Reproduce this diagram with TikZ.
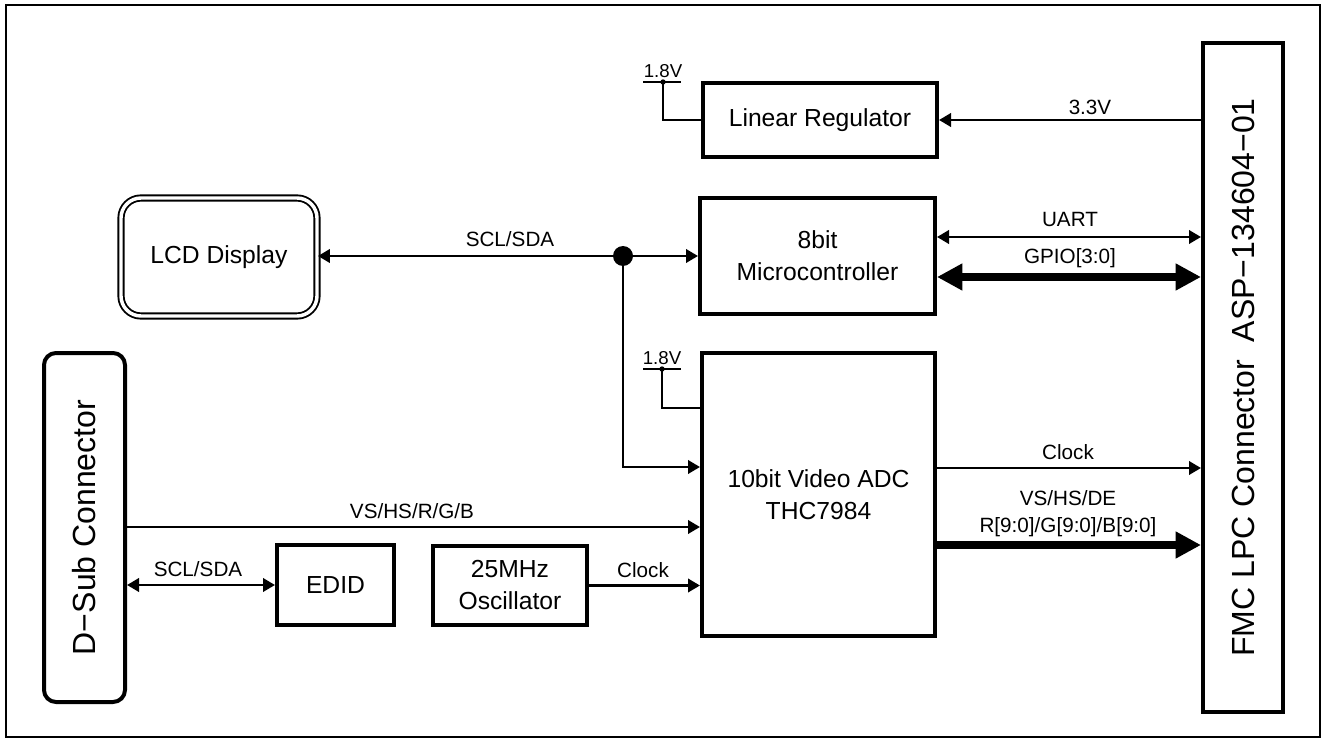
\documentclass[tikz,border=0pt]{standalone}
\usepackage{fontspec}
\setmainfont{Liberation Sans}
\usetikzlibrary{arrows.meta}
\begin{document}
\begin{tikzpicture}[x=0.75pt,y=-0.75pt,
  box/.style={draw, line width=3pt, inner sep=0pt, align=center, font=\fontsize{18.5}{24}\selectfont},
  conn/.style={line width=2pt},
  bus/.style={line width=6pt},
  lbl/.style={font=\fontsize{15.5}{18}\selectfont, inner sep=0pt},
  vlbl/.style={font=\fontsize{24}{28}\selectfont, rotate=90, inner sep=0pt},
  vlt/.style={font=\fontsize{14}{16}\selectfont, inner sep=0pt},
  tipE/.style={-{Triangle[length=9pt,width=10pt]}},
  tipB/.style={{Triangle[length=9pt,width=10pt]}-{Triangle[length=9pt,width=10pt]}},
  btipE/.style={-{Triangle[length=19pt,width=19pt]}},
  btipB/.style={{Triangle[length=19pt,width=19pt]}-{Triangle[length=19pt,width=19pt]}},
  bar/.style={line width=2pt},
  dotS/.style={circle, fill, inner sep=0pt, minimum size=4pt}
]
\useasboundingbox (0,0) rectangle (1322,738);
% outer frame
\draw[line width=1.5pt] (6,5) rectangle (1320,737);

% boxes
\node[box, minimum width=175.5pt, minimum height=55.5pt] (lr) at (820,120) {Linear Regulator};
\node[box, minimum width=176.25pt, minimum height=87pt] (uc) at (817.5,256) {8bit\\Microcontroller};
\node[box, minimum width=174.75pt, minimum height=212.25pt] (adc) at (818.5,494.5) {10bit Video ADC\\THC7984};
\node[box, minimum width=60pt, minimum height=501.75pt] (fmc) at (1243,377.5) {};
\node[vlbl] (fmct) at (fmc.center) {FMC LPC Connector\ \ ASP−134604−01};
\node[box, rounded corners=9pt, minimum width=60.75pt, minimum height=261.75pt] (dsub) at (84.5,527.5) {};
\node[vlbl] (dsubt) at (dsub.center) {D−Sub Connector};
\node[box, minimum width=87.75pt, minimum height=60pt] (edid) at (335.5,585) {EDID};
\node[box, minimum width=115.5pt, minimum height=59.25pt] (osc) at (510,585.5) {25MHz\\Oscillator};
\node[draw, line width=1.4pt, double=white, double distance=2.6pt, rounded corners=15pt,
      inner sep=0pt, font=\fontsize{18.5}{24}\selectfont,
      minimum width=147pt, minimum height=88.5pt] (lcd) at (219,257) {LCD Display};

% 1.8V supplies
\coordinate (v1) at (663,82);
\draw[bar] (643,82) -- (681,82);
\node[dotS] (v1d) at (v1) {};
\node[vlt, anchor=south] (v1t) at (663,78) {1.8V};
\draw[conn] (v1) |- (lr.west);

\coordinate (v2) at (662,369);
\draw[bar] (643,369) -- (681,369);
\node[dotS] (v2d) at (v2) {};
\node[vlt, anchor=south] (v2t) at (662,365) {1.8V};
\draw[conn] (v2) |- (adc.west |- 0,408);

% 3.3V
\draw[conn, tipE] (fmc.west |- lr.east) -- (lr.east);
\node[lbl] (l33) at (1090,107) {3.3V};

% UART / GPIO
\draw[conn, tipB] (uc.east |- 0,237) -- (fmc.west |- 0,237);
\node[lbl] (luart) at (1070,219) {UART};
\draw[bus, btipB] (uc.east |- 0,277) -- (fmc.west |- 0,277);
\node[lbl] (lgpio) at (1070,258) {GPIO[3:0]};

% SCL/SDA top
\node[circle, fill, inner sep=0pt, minimum size=15pt] (j) at (623,256) {};
\draw[conn, tipE] (j.center) -- (lcd.east |- j.center);
\draw[conn, tipE] (j.center) -- (uc.west |- j.center);
\node[lbl] (lscl) at (510,239) {SCL/SDA};
\draw[conn, tipE] (j.center) |- (adc.west |- 0,467);

% D-Sub to ADC
\draw[conn, tipE] (dsub.east |- 0,527) -- (adc.west |- 0,527);
\node[lbl] (lvs) at (412,511) {VS/HS/R/G/B};

% D-Sub to EDID
\draw[conn, tipB] (dsub.east |- edid.west) -- (edid.west);
\node[lbl] (lscl2) at (198,569) {SCL/SDA};

% Oscillator clock
\draw[conn, tipE] (osc.east) -- (adc.west |- osc.east);
\node[lbl] (lclk1) at (643,570) {Clock};

% ADC to FMC
\draw[conn, tipE] (adc.east |- 0,468) -- (fmc.west |- 0,468);
\node[lbl] (lclk2) at (1068,452) {Clock};
\draw[bus, btipE] (adc.east |- 0,545) -- (fmc.west |- 0,545);
\node[lbl] (lvs2) at (1068,498) {VS/HS/DE};
\node[lbl] (lrgb) at (1068,527) {R[9:0]/G[9:0]/B[9:0]};
\end{tikzpicture}
\end{document}
